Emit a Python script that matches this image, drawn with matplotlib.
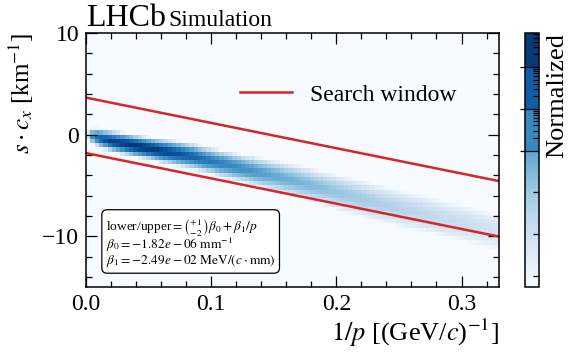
import numpy as np
import matplotlib
matplotlib.use("Agg")
import matplotlib.pyplot as plt
from matplotlib.colors import LogNorm
from matplotlib.ticker import MultipleLocator, FixedLocator, NullFormatter

plt.rcParams['font.family'] = ['Liberation Serif', 'DejaVu Serif']
plt.rcParams['mathtext.fontset'] = 'stix'

# fitted search-window parameters (as quoted on the plot)
beta0_mm = -1.82e-06      # mm^-1
beta1_mev = -2.49e-02     # MeV/(c mm)
window_factors = [1, -2]  # lower / upper

# band of simulated tracks: centre, width and peak density vs 1/p
band_x = [0.0, 0.02, 0.054, 0.083, 0.147, 0.171, 0.235, 0.307, 0.33]
band_y = [0.0, -0.65, -1.45, -2.1, -4.0, -4.7, -6.8, -8.9, -9.6]
width_x = [0.0, 0.05, 0.12, 0.235, 0.33]
width_y = [0.15, 0.17, 0.26, 0.5, 0.68]
peak_x = [0.0, 0.004, 0.01, 0.02, 0.04, 0.06, 0.08, 0.10, 0.13, 0.16, 0.20, 0.24, 0.28, 0.33]
peak_val = [1e-5, 0.02, 0.6, 3.0, 5.5, 3.0, 0.7, 0.15, 0.03, 0.006, 0.0015, 5e-4, 2e-4, 8e-5]

vmin, vmax = 5.5e-6, 6.5

x_edges = np.linspace(0, 0.33, 97)
y_edges = np.linspace(-15, 10, 61)
xc = 0.5 * (x_edges[1:] + x_edges[:-1])
yc = 0.5 * (y_edges[1:] + y_edges[:-1])

centre = np.interp(xc, band_x, band_y)
sigma = np.interp(xc, width_x, width_y)
peak = 10 ** np.interp(xc, peak_x, np.log10(peak_val))
dist = np.abs(yc[:, None] - centre[None, :]) / sigma[None, :]
hist = peak[None, :] * np.exp(-0.5 * dist ** 1.7)
hist = np.clip(hist, vmin, None)

fig = plt.figure(figsize=(5.71, 3.53), dpi=100)
ax = fig.add_axes([0.1506, 0.187, 0.7234, 0.7195])
cax = fig.add_axes([0.9195, 0.187, 0.0245, 0.7195])

cmap = plt.get_cmap('Blues')
norm = LogNorm(vmin=vmin, vmax=vmax)
mesh = ax.pcolormesh(x_edges, y_edges, hist, cmap=cmap, norm=norm)

# search window lines, converted to km^-1 and (GeV/c)^-1
b0 = beta0_mm * 1e6
b1 = beta1_mev * 1e3
xl = np.array([0, 0.33])
for i, f in enumerate(window_factors):
    ax.plot(xl, f * b0 + b1 * xl, color='#d62728', lw=1.8,
            label='Search window' if i == 0 else None)

ax.set_xlim(0, 0.33)
ax.set_ylim(-15, 10)
ax.xaxis.set_major_locator(MultipleLocator(0.1))
ax.xaxis.set_minor_locator(MultipleLocator(0.02))
ax.yaxis.set_major_locator(MultipleLocator(10))
ax.yaxis.set_minor_locator(MultipleLocator(2))
ax.tick_params(which='both', direction='in', top=True, right=True, labelsize=17, width=0.9)
ax.tick_params(which='major', length=8, pad=5)
ax.tick_params(which='minor', length=4)
for s in ax.spines.values():
    s.set_linewidth(1.1)

ax.set_xlabel(r'$1/p$ [(GeV/$c$)$^{-1}$]', fontsize=19, loc='right', labelpad=1)
ax.set_ylabel(r'$s\cdot c_x$ [km$^{-1}$]', fontsize=18, loc='top', labelpad=4)

ax.legend(loc='center left', bbox_to_anchor=(0.373, 0.756), frameon=False, fontsize=17,
          handlelength=2.2, handletextpad=0.75, borderpad=0, borderaxespad=0)

info = ('lower/upper$=\\binom{+1}{-2}\\beta_0+\\beta_1/p$\n'
        f'$\\beta_0={beta0_mm:.2e}\\ \\mathrm{{mm}}^{{-1}}$\n'
        f'$\\beta_1={beta1_mev:.2e}\\ \\mathrm{{MeV}}/(c\\cdot\\mathrm{{mm}})$')
ax.text(0.048, 0.07, info, transform=ax.transAxes, fontsize=9.6, va='bottom', ha='left',
        linespacing=0.9,
        bbox=dict(boxstyle='round,pad=0.3,rounding_size=0.4', fc='white', ec='black', lw=0.9))

fig.text(86 / 571, 1 - 26 / 353, 'LHCb', fontsize=23, va='baseline')
fig.text(168 / 571, 1 - 26 / 353, 'Simulation', fontsize=17, va='baseline')

cb = fig.colorbar(mesh, cax=cax)
cb.outline.set_linewidth(1.1)
# upper decades are shown as flat colour blocks
for lo, hi in [(0.01, 0.1), (0.1, 1), (1, vmax)]:
    cax.axhspan(lo, hi, color=cmap(norm(0.5 * (lo + hi))), lw=0)
cax.yaxis.set_major_locator(FixedLocator([0.01, 0.1, 1]))
minor = [k * 10.0 ** e for e in (-2, -1, 0) for k in range(2, 10) if k * 10.0 ** e < vmax]
minor += [1e-3, 1e-4, 1e-5]
cax.yaxis.set_minor_locator(FixedLocator(minor))
cax.yaxis.set_major_formatter(NullFormatter())
cax.yaxis.set_minor_formatter(NullFormatter())
cax.tick_params(which='major', direction='in', length=14, width=0.9)
cax.tick_params(which='minor', direction='in', length=4, width=0.9)
cb.set_label('Normalized', fontsize=19, loc='top', labelpad=2)

fig.savefig('out.png', dpi=100)
